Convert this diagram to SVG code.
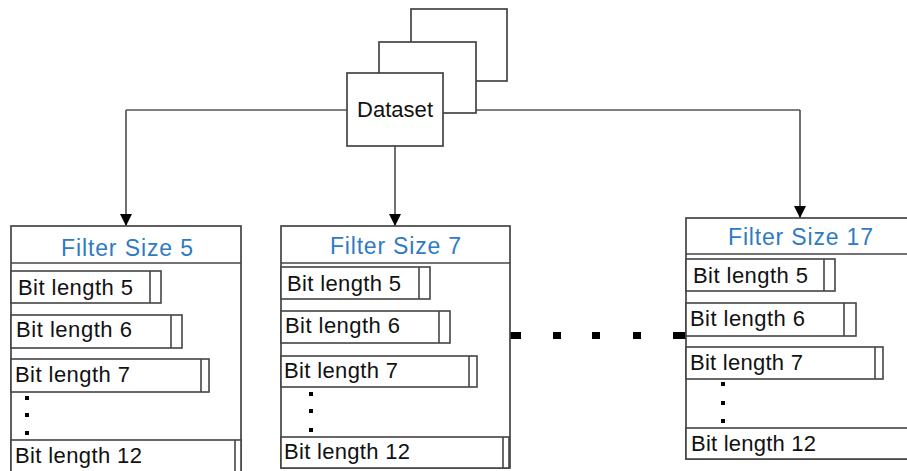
<svg xmlns="http://www.w3.org/2000/svg" width="907" height="471" viewBox="0 0 907 471">
  <defs>
    <marker id="arrow" markerWidth="12" markerHeight="12" refX="12" refY="6" orient="auto" markerUnits="userSpaceOnUse" viewBox="0 0 12 12">
      <path d="M0,0 L12,6 L0,12 Z" fill="#000"/>
    </marker>
    <style>
      .edge { fill: none; stroke: #555; stroke-width: 1.7; }
      .box { fill: #fff; stroke: #444; stroke-width: 1.7; }
      .row { fill: #fff; stroke: #444; stroke-width: 1.6; }
      .sep { stroke: #444; stroke-width: 1.6; }
      .title { font-family: "Liberation Sans", Arial, sans-serif; font-size: 23px; fill: #2E7BC4; }
      .lbl { font-family: "Liberation Sans", Arial, sans-serif; font-size: 22px; fill: #111; }
      .dot { fill: #000; }
    </style>
  </defs>
  <rect width="907" height="471" fill="#fff"/>

  <!-- connectors -->
  <g id="connectors">
    <path class="edge" d="M126,110 H800"/>
    <path class="edge" d="M126,110 V226" marker-end="url(#arrow)"/>
    <path class="edge" d="M395,146 V226" marker-end="url(#arrow)"/>
    <path class="edge" d="M800,110 V218" marker-end="url(#arrow)"/>
    <!-- dotted link between filter groups -->
    <rect class="dot" x="510" y="332" width="11" height="7"/>
    <rect class="dot" x="553" y="332" width="8" height="7"/>
    <rect class="dot" x="592" y="332" width="8" height="7"/>
    <rect class="dot" x="633" y="332" width="8" height="7"/>
    <rect class="dot" x="673" y="332" width="13" height="7"/>
  </g>

  <!-- dataset stack -->
  <g id="dataset">
    <rect class="box" x="411" y="9" width="96" height="72"/>
    <rect class="box" x="379" y="42" width="97" height="71"/>
    <rect class="box" x="347" y="73" width="96" height="73"/>
    <text class="lbl" x="357" y="117" textLength="76">Dataset</text>
  </g>

  <!-- filter size 5 -->
  <g id="filter5">
    <rect class="box" x="11" y="226" width="230" height="260"/>
    <line class="sep" x1="11" y1="263" x2="241" y2="263"/>
    <text class="title" x="61" y="256" textLength="132">Filter Size 5</text>
    <rect class="row" x="11" y="271" width="150" height="32"/>
    <line class="sep" x1="150" y1="271" x2="150" y2="303"/>
    <text class="lbl" x="18" y="295" textLength="115">Bit length 5</text>
    <rect class="row" x="11" y="315" width="171" height="33"/>
    <line class="sep" x1="171" y1="315" x2="171" y2="348"/>
    <text class="lbl" x="16" y="337" textLength="116">Bit length 6</text>
    <rect class="row" x="11" y="359" width="198" height="33"/>
    <line class="sep" x1="201" y1="359" x2="201" y2="392"/>
    <text class="lbl" x="15" y="382" textLength="115">Bit length 7</text>
    <rect class="dot" x="25" y="396" width="4" height="4"/>
    <rect class="dot" x="25" y="413" width="4" height="4"/>
    <rect class="dot" x="25" y="431" width="4" height="4"/>
    <rect class="row" x="11" y="440" width="230" height="40"/>
    <line class="sep" x1="235" y1="440" x2="235" y2="480"/>
    <text class="lbl" x="15" y="463" textLength="127">Bit length 12</text>
  </g>

  <!-- filter size 7 -->
  <g id="filter7">
    <rect class="box" x="281" y="226" width="229" height="242"/>
    <line class="sep" x1="281" y1="263" x2="510" y2="263"/>
    <text class="title" x="330" y="254" textLength="131">Filter Size 7</text>
    <rect class="row" x="281" y="267" width="149" height="32"/>
    <line class="sep" x1="419" y1="267" x2="419" y2="299"/>
    <text class="lbl" x="287" y="291" textLength="114">Bit length 5</text>
    <rect class="row" x="281" y="311" width="169" height="32"/>
    <line class="sep" x1="439" y1="311" x2="439" y2="343"/>
    <text class="lbl" x="285" y="333" textLength="115">Bit length 6</text>
    <rect class="row" x="281" y="356" width="196" height="31"/>
    <line class="sep" x1="469" y1="356" x2="469" y2="387"/>
    <text class="lbl" x="284" y="378" textLength="114">Bit length 7</text>
    <rect class="dot" x="309" y="392" width="4" height="4"/>
    <rect class="dot" x="309" y="409" width="4" height="4"/>
    <rect class="dot" x="309" y="428" width="4" height="4"/>
    <rect class="row" x="281" y="437" width="228" height="31"/>
    <line class="sep" x1="503" y1="437" x2="503" y2="468"/>
    <text class="lbl" x="284" y="459" textLength="126">Bit length 12</text>
  </g>

  <!-- filter size 17 -->
  <g id="filter17">
    <rect class="box" x="686" y="218" width="240" height="241"/>
    <line class="sep" x1="686" y1="254" x2="926" y2="254"/>
    <text class="title" x="728" y="245" textLength="145">Filter Size 17</text>
    <rect class="row" x="686" y="259" width="149" height="32"/>
    <line class="sep" x1="824" y1="259" x2="824" y2="291"/>
    <text class="lbl" x="693" y="283" textLength="115">Bit length 5</text>
    <rect class="row" x="686" y="303" width="170" height="33"/>
    <line class="sep" x1="844" y1="303" x2="844" y2="336"/>
    <text class="lbl" x="690" y="326" textLength="115">Bit length 6</text>
    <rect class="row" x="686" y="347" width="197" height="32"/>
    <line class="sep" x1="875" y1="347" x2="875" y2="379"/>
    <text class="lbl" x="690" y="370" textLength="113">Bit length 7</text>
    <rect class="dot" x="721" y="382" width="4" height="4"/>
    <rect class="dot" x="721" y="401" width="4" height="4"/>
    <rect class="dot" x="721" y="419" width="4" height="4"/>
    <rect class="row" x="686" y="428" width="240" height="31"/>
    <text class="lbl" x="691" y="451" textLength="125">Bit length 12</text>
  </g>
</svg>
